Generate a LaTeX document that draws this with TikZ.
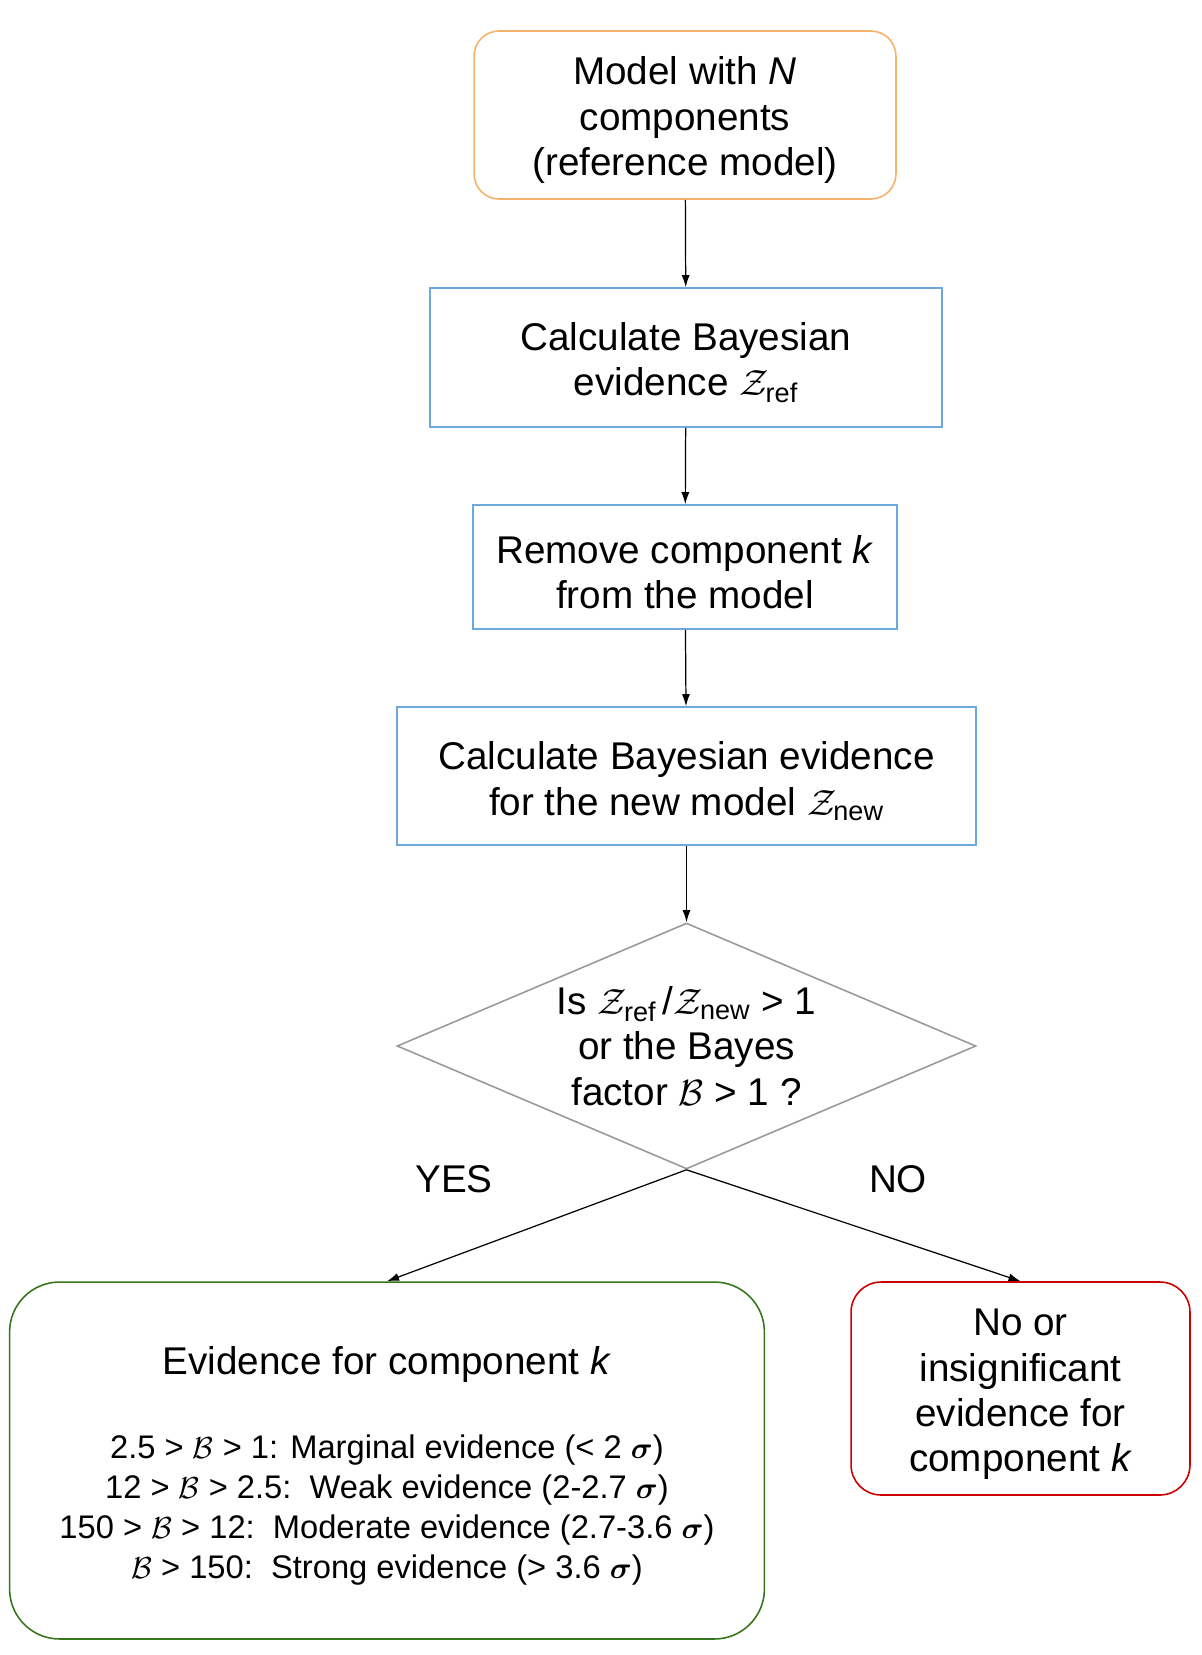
\documentclass[tikz,border=0pt]{standalone}
\usepackage{amsmath}
\usepackage{fontspec}
\setmainfont{Liberation Sans}
\usetikzlibrary{arrows.meta, positioning, shapes.geometric}

\definecolor{boxorange}{HTML}{F6B26B}
\definecolor{boxblue}{HTML}{6FA8DC}
\definecolor{boxgray}{HTML}{999999}
\definecolor{boxgreen}{HTML}{38761D}
\definecolor{boxred}{HTML}{CC0000}

\newcommand{\evZ}[1]{$\mathcal{Z}_{\text{#1}}$}
\newcommand{\bfac}{$\mathcal{B}$}
\newcommand{\sig}{$\boldsymbol{\sigma}$}
\newcommand{\smallrow}{\fontsize{18.6}{22.6}\selectfont}
\newcommand{\lift}{\rule{0pt}{0.77cm}}

\begin{document}
\begin{tikzpicture}[
    x=0.02cm, y=-0.02cm,
    font=\fontsize{22}{25.8}\selectfont,
    stepbox/.style={draw=boxblue, line width=0.9pt, align=center, inner sep=0pt},
    startbox/.style={draw=boxorange, line width=0.9pt, rounded corners=0.5cm,
                     align=center, inner sep=0pt},
    decide/.style={diamond, draw=boxgray, line width=0.9pt, align=center,
                   inner sep=0pt, aspect=2.35},
    yesbox/.style={draw=boxgreen, line width=0.9pt, rounded corners=1cm,
                   align=center, inner sep=0pt},
    nobox/.style={draw=boxred, line width=0.9pt, rounded corners=0.6cm,
                  align=center, inner sep=0pt},
    arr/.style={-{Latex[length=2.4mm, width=1.6mm]}, line width=0.7pt},
]
    \useasboundingbox (0,0) rectangle (1202,1655);

    %==================== START ====================
    \node[startbox, minimum width=8.44cm, minimum height=3.36cm] (ref) at (685,115)
        {\lift Model with \textit{N}\\ components\\ (reference model)};

    %==================== STEPS ====================
    \node[stepbox, minimum width=10.24cm, minimum height=2.78cm] (zref) at (686,357.5)
        {\lift Calculate Bayesian\\ evidence \evZ{ref}};
    \node[stepbox, minimum width=8.48cm, minimum height=2.48cm] (remove) at (685,567)
        {\lift Remove component \textit{k}\\ from the model};
    \node[stepbox, minimum width=11.58cm, minimum height=2.76cm] (znew) at (686.5,776)
        {\lift Calculate Bayesian evidence\\ for the new model \evZ{new}};

    \draw[arr] (ref) -- (zref);
    \draw[arr] (zref) -- (remove);
    \draw[arr] (remove) -- (znew);

    %==================== DECISION ====================
    \node[decide, minimum width=11.58cm, minimum height=4.92cm] (test) at (686.5,1046)
        {Is \evZ{ref}\,/\evZ{new} > 1\\ or the Bayes\\ factor \bfac{} > 1 ?};
    \draw[arr] (znew) -- (test);

    \node (yes) at (454,1179) {YES};
    \node (no) at (898,1179) {NO};

    %==================== OUTCOMES ====================
    \node[yesbox, minimum width=15.1cm, minimum height=7.14cm] (evid) at (387,1460.5)
        {\lift Evidence for component \textit{k}\\[0.78cm]
         \smallrow 2.5 > \bfac{} > 1: Marginal evidence (< 2 \sig)\\[-0.11cm]
         \smallrow 12 > \bfac{} > 2.5:\ \ Weak evidence (2-2.7 \sig)\\[-0.11cm]
         \smallrow 150 > \bfac{} > 12:\ \ Moderate evidence (2.7-3.6 \sig)\\[-0.11cm]
         \smallrow \bfac{} > 150:\ \ Strong evidence (> 3.6 \sig)};
    \node[nobox, minimum width=6.78cm, minimum height=4.26cm] (noev) at (1020.5,1388.5)
        {\lift No or\\ insignificant\\ evidence for\\ component \textit{k}};

    \draw[arr] (test.south) -- (evid.north);
    \draw[arr] (test.south) -- (noev.north);

\end{tikzpicture}
\end{document}
